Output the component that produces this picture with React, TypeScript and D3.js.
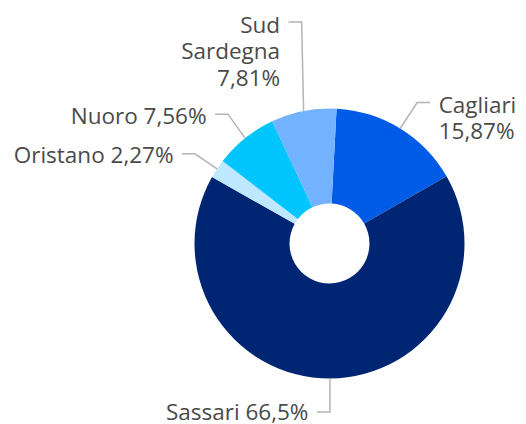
import React from "react";
import * as d3 from "d3";

const categories = ["Cagliari", "Sassari", "Oristano", "Nuoro", "Sud Sardegna"];
const values = [15.87, 66.5, 2.27, 7.56, 7.81];
const colors = ["#005ce6", "#002673", "#bee8ff", "#00c5ff", "#73b2ff"];
// label line splits (text only)
const labelBreaks = [["Cagliari", "%"], ["Sassari %"], ["Oristano %"], ["Nuoro %"], ["Sud", "Sardegna", "%"]];

// layout: leader elbow offset from the slice's outer mid point, side, text baseline shift
const leaderLayout = [
  { dx: 17, dy: -26, side: 1, tdy: 10.5 },
  { dx: 0, dy: 33.5, side: -1, tdy: 8.5 },
  { dx: -22, dy: -15, side: -1, tdy: 9.5 },
  { dx: -17, dy: -24, side: -1, tdy: 10 },
  { dx: -2, dy: -89, side: -1, tdy: 10.5 },
];

const W = 526;
const H = 424;
const cx = 329.5;
const cy = 243.5;
const outerR = 135;
const innerR = 40;
const startOffset = (3 * Math.PI) / 180;
const hLen = 13;
const gap = 8.5;
const fontSize = 22.5;
const lineH = 26.5;

const fmt = (v: number) => String(v).replace(".", ",") + "%";

export default function App() {
  const pie = d3
    .pie<number>()
    .sort(null)
    .startAngle(startOffset)
    .endAngle(startOffset + 2 * Math.PI);
  const arcs = pie(values);
  const arc = d3.arc<d3.PieArcDatum<number>>().innerRadius(innerR).outerRadius(outerR);

  return (
    <svg
      width={W}
      height={H}
      style={{ position: "absolute", left: 0, top: 0, background: "#fff" }}
    >
      <g transform={`translate(${cx},${cy})`}>
        {arcs.map((a, i) => (
          <path key={categories[i]} d={arc(a) || ""} fill={colors[i]} />
        ))}
        {arcs.map((a, i) => {
          const mid = (a.startAngle + a.endAngle) / 2;
          const ox = outerR * Math.sin(mid);
          const oy = -outerR * Math.cos(mid);
          const L = leaderLayout[i];
          const ex = ox + L.dx;
          const ey = oy + L.dy;
          const hx = ex + L.side * hLen;
          const tx = hx + L.side * gap;
          const lines = labelBreaks[i].map((s) => s.replace("%", fmt(values[i])));
          return (
            <g key={"l" + i}>
              <polyline
                points={`${ox},${oy} ${ex},${ey} ${hx},${ey}`}
                fill="none"
                stroke="#b4b4b4"
                strokeWidth={1.5}
              />
              <text
                x={tx}
                y={ey + L.tdy}
                textAnchor={L.side > 0 ? "start" : "end"}
                fontFamily="'Open Sans', sans-serif"
                fontSize={fontSize}
                fill="#4a4a4a"
              >
                {lines.map((t, j) => (
                  <tspan key={j} x={tx} dy={j === 0 ? 0 : lineH}>
                    {t}
                  </tspan>
                ))}
              </text>
            </g>
          );
        })}
      </g>
    </svg>
  );
}
